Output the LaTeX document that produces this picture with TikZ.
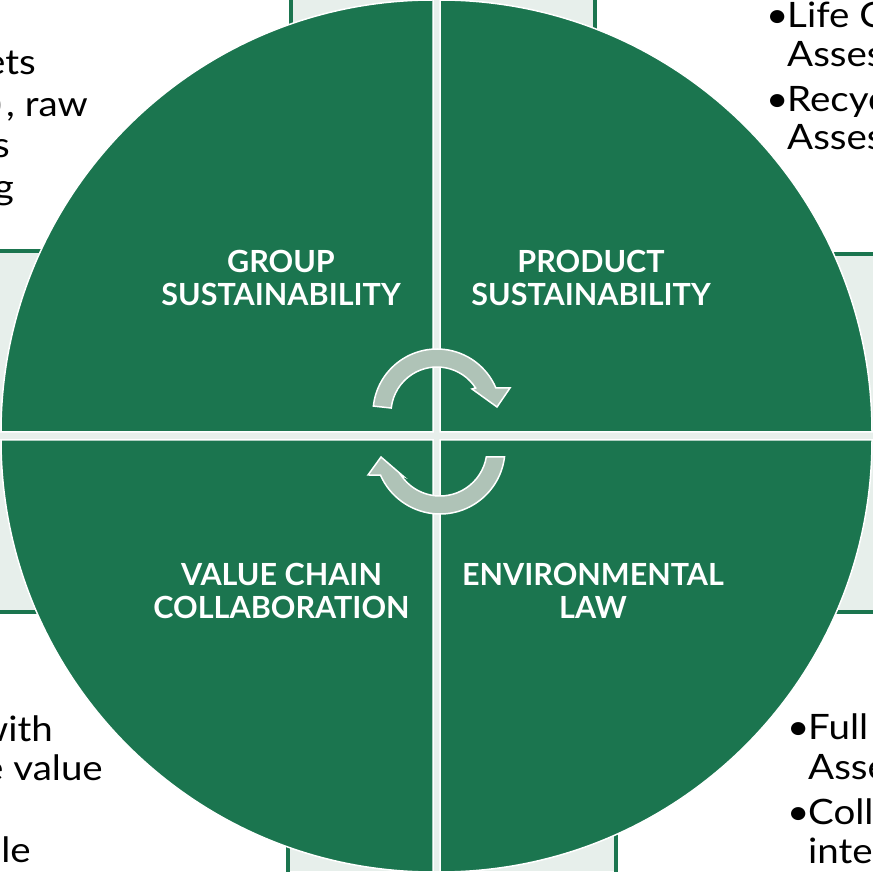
\documentclass[tikz,border=0pt]{standalone}
\usepackage{fontspec}
\setmainfont{Lato}
\newfontfamily\bodyfont[FakeStretch=1.1]{Lato}
\usetikzlibrary{calc}
\definecolor{qgreen}{RGB}{27,117,79}
\definecolor{lightbg}{RGB}{231,239,235}
\definecolor{arrowgrey}{RGB}{175,195,183}
\newcommand{\bullitem}{\makebox[21pt][l]{\textbullet}}
\begin{document}
\begin{tikzpicture}[x=1pt,y=1pt,
  panel/.style={fill=white, draw=qgreen, line width=4pt},
  sector/.style={fill=qgreen, draw=white, line width=1.5pt},
  cyclearrow/.style={fill=arrowgrey, draw=white, line width=1.5pt, line join=miter},
  qlabel/.style={text=white, font=\bfseries\fontsize{30.5}{33}\selectfont, align=center, inner sep=0pt},
  body/.style={font=\bodyfont\fontsize{35}{41}\selectfont, inner sep=0pt, text=black}]
\useasboundingbox (0,0) rectangle (873,871);
% light backdrop behind the circle
\fill[lightbg] (0,0) rectangle (873,871);
% corner text panels
\draw[panel] (-10,620) rectangle (290.5,890);
\draw[panel] (595,617) rectangle (890,890);
\draw[panel] (-10,-10) rectangle (288,259);
\draw[panel] (616,-10) rectangle (890,259);
% four quadrants of the circle
\def\R{432}
\draw[sector] (433,439) -- ++(-\R,0) arc[start angle=180,end angle=90,radius=\R] -- cycle;
\draw[sector] (440,439) -- ++(0,\R) arc[start angle=90,end angle=0,radius=\R] -- cycle;
\draw[sector] (440,431) -- ++(\R,0) arc[start angle=0,end angle=-90,radius=\R] -- cycle;
\draw[sector] (433,431) -- ++(0,-\R) arc[start angle=270,end angle=180,radius=\R] -- cycle;
% cycle arrows
\draw[cyclearrow] ($(437,458)+(173.8:64)$) arc[start angle=173.8,end angle=23,radius=64]
  -- (510,483) -- (497,464) -- (472,482) -- ($(437,458)+(32.9:46)$)
  arc[start angle=32.9,end angle=173.8,radius=46] -- cycle;
\draw[cyclearrow] ($(440,422)+(-7:65)$) arc[start angle=-7,end angle=-156.4,radius=65]
  -- (368,396) -- (381,414) -- (403,395) -- ($(440,422)+(-146.4:47)$)
  arc[start angle=-146.4,end angle=-9.8,radius=47] -- cycle;
% quadrant titles
\node[qlabel] (group) at (281,593.5) {GROUP\\SUSTAINABILITY};
\node[qlabel] (product) at (591,593.5) {PRODUCT\\SUSTAINABILITY};
\node[qlabel] (value) at (281.5,280.5) {VALUE CHAIN\\COLLABORATION};
\node[qlabel] (envlaw) at (593,280.5) {ENVIRONMENTAL\\LAW};
% top-left panel text
\node[body, anchor=base east] (tl1) at (36,796) {ets};
\node[body, anchor=base east] (tl2) at (88,754) {)\kern4pt, raw};
\node[body, anchor=base east] (tl3) at (10,713) {s};
\node[body, anchor=base east] (tl4) at (14,671) {g};
% top-right panel text
\node[body, anchor=base west] (tr1) at (766,843) {\bullitem Life C};
\node[body, anchor=base west] (tr2) at (787,804) {Asses};
\node[body, anchor=base west] (tr3) at (766,759) {\bullitem Recyc};
\node[body, anchor=base west] (tr4) at (787,721) {Asses};
% bottom-left panel text
\node[body, anchor=base east] (bl1) at (53,130) {with};
\node[body, anchor=base east] (bl2) at (103,91) {e value};
\node[body, anchor=base east] (bl3) at (31,9) {le};
% bottom-right panel text
\node[body, anchor=base west] (br1) at (787,132) {\bullitem Full};
\node[body, anchor=base west] (br2) at (808,92) {Asse};
\node[body, anchor=base west] (br3) at (787,47) {\bullitem Coll};
\node[body, anchor=base west] (br4) at (808,8) {inte};
\end{tikzpicture}
\end{document}
